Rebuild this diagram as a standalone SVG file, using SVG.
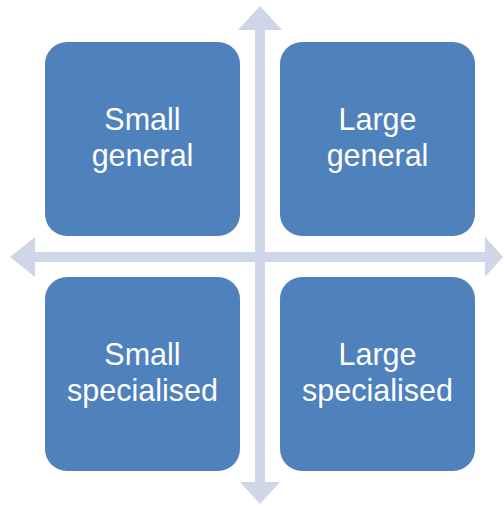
<svg xmlns="http://www.w3.org/2000/svg" width="504" height="506" viewBox="0 0 504 506">
<style>
.box{fill:#4F81BD;}
.lbl{fill:#FFFFFF;font-family:"Liberation Sans",Arial,sans-serif;font-size:30.5px;text-anchor:middle;}
.arr{fill:#CFD6E7;}
</style>
<rect width="504" height="506" fill="#FFFFFF"/>
<g id="connectors">
<polygon class="arr" points="260,6 282,30 265,30 265,252 485,252 485,237 503,257 485,277 485,262 265,262 265,482 280,482 260,504 240,482 255,482 255,262 35,262 35,277 10,257 35,237 35,252 255,252 255,30 238,30"/>
</g>
<g id="small-general">
<rect class="box" x="45" y="42" width="195" height="194" rx="22"/>
<text class="lbl" x="142.5" y="130">Small</text>
<text class="lbl" x="142.5" y="166">general</text>
</g>
<g id="large-general">
<rect class="box" x="280" y="42" width="195" height="194" rx="22"/>
<text class="lbl" x="377.5" y="130">Large</text>
<text class="lbl" x="377.5" y="166">general</text>
</g>
<g id="small-specialised">
<rect class="box" x="45" y="277" width="195" height="194" rx="22"/>
<text class="lbl" x="142.5" y="365">Small</text>
<text class="lbl" x="142.5" y="401">specialised</text>
</g>
<g id="large-specialised">
<rect class="box" x="280" y="277" width="195" height="194" rx="22"/>
<text class="lbl" x="377.5" y="365">Large</text>
<text class="lbl" x="377.5" y="401">specialised</text>
</g>
</svg>
